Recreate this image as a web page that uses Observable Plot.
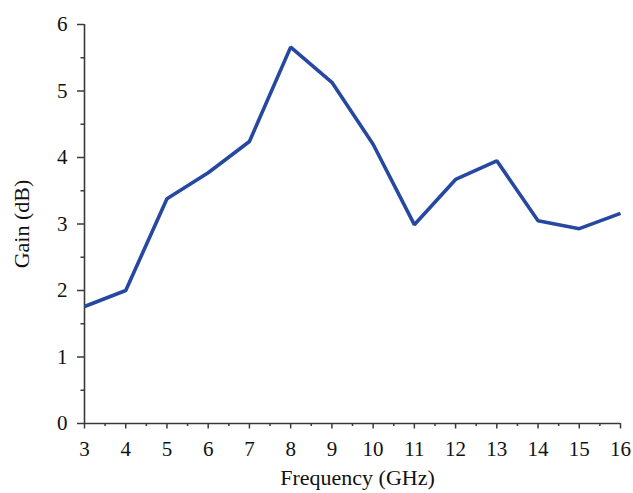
<!DOCTYPE html>
<html>
<head>
<meta charset="utf-8">
<script src="https://cdn.jsdelivr.net/npm/d3@7"></script>
<script src="https://cdn.jsdelivr.net/npm/@observablehq/plot@0.6"></script>
<style>
  html, body { margin: 0; padding: 0; background: #fff; }
</style>
</head>
<body>
<div id="chart"></div>
<script>
const frequency = [3, 4, 5, 6, 7, 8, 9, 10, 11, 12, 13, 14, 15, 16];
const gain = [1.76, 2.0, 3.38, 3.77, 4.24, 5.66, 5.13, 4.2, 2.99, 3.67, 3.95, 3.05, 2.93, 3.16];
const xTicks = [3, 4, 5, 6, 7, 8, 9, 10, 11, 12, 13, 14, 15, 16];
const xMinor = [3.5, 4.5, 5.5, 6.5, 7.5, 8.5, 9.5, 10.5, 11.5, 12.5, 13.5, 14.5, 15.5];
const yTicks = [0, 1, 2, 3, 4, 5, 6];
const yMinor = [0.5, 1.5, 2.5, 3.5, 4.5, 5.5];
const xLabel = "Frequency (GHz)";
const yLabel = "Gain (dB)";

const data = frequency.map((f, i) => ({f, g: gain[i]}));
const axisColor = "#3a3a3a";

const chart = Plot.plot({
  width: 633,
  height: 493,
  marginLeft: 84,
  marginRight: 13,
  marginTop: 24,
  marginBottom: 70,
  style: {fontFamily: "'Liberation Serif', 'Times New Roman', serif", fontSize: "21px", color: "#111", background: "#fff"},
  x: {domain: [3, 16]},
  y: {domain: [0, 6]},
  marks: [
    Plot.axisX({ticks: xTicks, tickSize: 5.5, tickPadding: 12, tickFormat: d => String(d), label: null, stroke: axisColor, strokeWidth: 1.5, fontSize: 21}),
    Plot.axisX({ticks: xMinor, tickSize: 3, tickFormat: () => "", label: null, stroke: axisColor, strokeWidth: 1.5}),
    Plot.axisY({ticks: yTicks, tickSize: 7, tickPadding: 10, tickFormat: d => String(d), label: null, stroke: axisColor, strokeWidth: 1.5, fontSize: 21}),
    Plot.axisY({ticks: yMinor, tickSize: 3.5, tickFormat: () => "", label: null, stroke: axisColor, strokeWidth: 1.5}),
    Plot.ruleY([0], {stroke: axisColor, strokeWidth: 1.6}),
    Plot.ruleX([3], {stroke: axisColor, strokeWidth: 1.6}),
    Plot.line(data, {x: "f", y: "g", stroke: "#2648a0", strokeWidth: 3.6, strokeLinejoin: "miter", strokeLinecap: "butt"}),
    Plot.text([xLabel], {frameAnchor: "bottom", textAnchor: "middle", dy: 61, dx: 5, lineAnchor: "bottom", fontSize: 22, fill: "#111"}),
    Plot.text([yLabel], {frameAnchor: "left", textAnchor: "middle", dx: -56, dy: 0, rotate: -90, lineAnchor: "bottom", fontSize: 22, fill: "#111"})
  ]
});
document.getElementById("chart").appendChild(chart);
</script>
</body>
</html>
